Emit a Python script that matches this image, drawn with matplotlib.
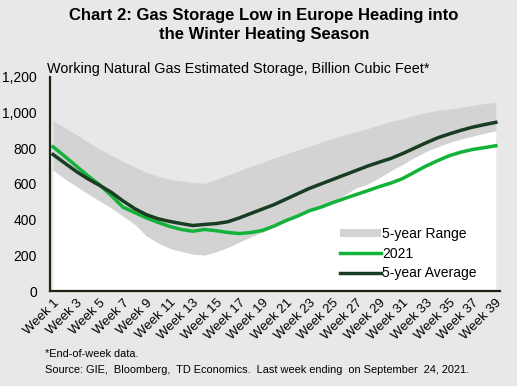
import matplotlib
matplotlib.use("Agg")
import matplotlib.pyplot as plt

plt.rcParams['font.family'] = ['Liberation Sans', 'DejaVu Sans']

weeks = list(range(1, 40))
week_labels = ["Week %d" % w for w in weeks]

# 5-year range (min / max), billion cubic feet
range_low = [678, 630, 587, 545, 505, 465, 420, 375, 310, 270,
             240, 222, 207, 202, 220, 245, 275, 305, 330, 360,
             390, 418, 447, 468, 500, 540, 578, 600, 635, 675,
             710, 748, 782, 808, 832, 852, 868, 884, 898]
range_high = [955, 915, 877, 835, 795, 760, 727, 695, 665, 643,
              627, 617, 608, 603, 625, 650, 675, 700, 722, 745,
              768, 790, 810, 835, 855, 875, 892, 910, 930, 950,
              965, 985, 1000, 1012, 1020, 1030, 1040, 1050, 1058]
y2021 = [808, 755, 700, 645, 595, 535, 470, 440, 410, 385,
         362, 345, 335, 345, 338, 328, 322, 328, 340, 365,
         395, 420, 450, 470, 495, 518, 540, 562, 585, 605,
         630, 665, 700, 730, 758, 778, 793, 803, 814]
avg5 = [765, 717, 670, 628, 592, 553, 505, 462, 428, 405,
        390, 378, 367, 373, 378, 388, 410, 435, 460, 485,
        515, 545, 575, 600, 625, 650, 675, 700, 722, 743,
        770, 800, 830, 858, 880, 900, 918, 932, 945]

bg = '#e8e8e8'
fig = plt.figure(figsize=(5.17, 3.86), dpi=100, facecolor=bg)
ax = fig.add_axes([0.0967, 0.246, 0.870, 0.555])
ax.set_facecolor(bg)

ax.fill_between(weeks, 0, range_low, color='white', linewidth=0)
ax.fill_between(weeks, range_low, range_high, color='#d3d3d3', linewidth=0,
                label='5-year Range')
ax.plot(weeks, y2021, color='#13b33a', linewidth=2.5, label='2021')
ax.plot(weeks, avg5, color='#183d23', linewidth=2.5, label='5-year Average')

ax.set_xlim(0.74, 39.34)
ax.set_ylim(0, 1200)
ax.set_yticks(range(0, 1201, 200))
ax.set_yticklabels(["{:,}".format(v) for v in range(0, 1201, 200)], fontsize=10)
ax.set_xticks(weeks[::2])
ax.set_xticklabels(week_labels[::2], rotation=45, ha='right',
                   rotation_mode='anchor', fontsize=9.5)
ax.tick_params(axis='both', length=0, colors='black')
ax.tick_params(axis='y', pad=9.5)
ax.tick_params(axis='x', pad=4)

for s in ['top', 'right']:
    ax.spines[s].set_visible(False)
for s in ['left', 'bottom']:
    ax.spines[s].set_color('#1c2414')
    ax.spines[s].set_linewidth(1.6)

leg = ax.legend(loc='lower left', bbox_to_anchor=(0.616, -0.008), frameon=False,
                fontsize=10, handlelength=2.95, handletextpad=0.1,
                labelspacing=0.4, handleheight=0.5)

fig.text(0.511, 0.948, "Chart 2: Gas Storage Low in Europe Heading into",
         ha='center', va='baseline', fontsize=12, fontweight='bold')
fig.text(0.511, 0.899, "the Winter Heating Season",
         ha='center', va='baseline', fontsize=12, fontweight='bold')
fig.text(0.091, 0.811, "Working Natural Gas Estimated Storage, Billion Cubic Feet*",
         ha='left', va='baseline', fontsize=10.4)
fig.text(0.087, 0.075, "*End-of-week data.", ha='left', va='baseline', fontsize=7.9)
fig.text(0.087, 0.034, "Source: GIE,  Bloomberg,  TD Economics.  Last week ending  on September  24, 2021.",
         ha='left', va='baseline', fontsize=7.9)

fig.savefig('out.png', dpi=100, facecolor=bg)
